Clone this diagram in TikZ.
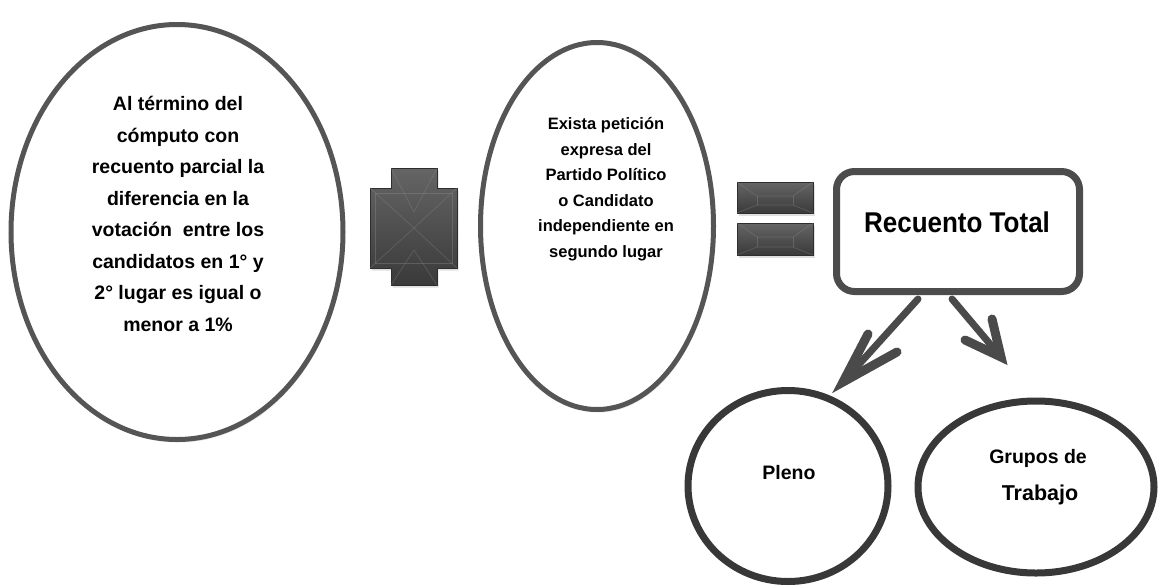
\documentclass[tikz,border=0pt]{standalone}
\usepackage{fontspec}
\setmainfont{Liberation Sans}
\usetikzlibrary{shapes.geometric,shadows,calc}
\definecolor{ring}{HTML}{555555}
\definecolor{ringdark}{HTML}{383838}
\definecolor{symtop}{HTML}{656565}
\definecolor{symbot}{HTML}{3A3A3A}
\definecolor{symedge}{HTML}{2E2E2E}
\definecolor{arrowgray}{HTML}{4A4A4A}
\tikzset{
  ringshadow/.style={drop shadow={shadow xshift=1.5pt, shadow yshift=-3pt, opacity=0.18}},
  bigring/.style={ellipse, draw=ring, line width=5pt, fill=white, inner sep=0pt, ringshadow},
  smallring/.style={ellipse, draw=ringdark, line width=7pt, fill=white, inner sep=0pt, ringshadow},
  totalbox/.style={rectangle, rounded corners=18pt, draw=ringdark!90!white, line width=7pt, fill=white, inner sep=0pt, ringshadow},
  lbl/.style={align=center, text=black, inner sep=0pt},
  symbol/.style={top color=symtop, bottom color=symbot, draw=symedge, line width=0.8pt},
  facet/.style={draw=symtop!70!white, line width=0.6pt, opacity=0.35},
  shaft/.style={draw=arrowgray, line width=7pt, line cap=round},
  barb/.style={draw=arrowgray, line width=9pt, line cap=round}
}
\begin{document}
\begin{tikzpicture}[x=1pt,y=-1pt]
\useasboundingbox (0,0) rectangle (1159,587);

% ellipses
\node[bigring, minimum width=332pt, minimum height=415pt] (c1) at (177,232) {};
\node[bigring, minimum width=233pt, minimum height=367pt] (c2) at (597,226) {};
\node[smallring, minimum width=200pt, minimum height=191pt] (pl) at (788,486) {};
\node[smallring, minimum width=236pt, minimum height=172pt] (gt) at (1036,487) {};

% box
\node[totalbox, minimum width=243pt, minimum height=120pt] (rt) at (958,231.5) {};

% texts
\node[lbl, font=\fontsize{19.5}{31.5}\selectfont\bfseries] (t1) at (178,214)
  {Al término del\\cómputo con\\recuento parcial la\\diferencia en la\\votación~ entre los\\candidatos en 1° y\\2° lugar es igual o\\menor a 1\%};
\node[lbl, font=\fontsize{16.5}{25.5}\selectfont\bfseries] (t2) at (606,189)
  {Exista petición\\expresa del\\Partido Político\\o Candidato\\independiente en\\segundo lugar};
\node[lbl, font=\fontsize{26}{30}\selectfont\bfseries] (t3) at (957,222) {\scalebox{1}[1.1]{Recuento Total}};
\node[lbl, font=\fontsize{19.5}{24}\selectfont\bfseries] (t4) at (789,473) {Pleno};
\node[lbl, font=\fontsize{19.5}{24}\selectfont\bfseries] (t5) at (1038,458) {Grupos de};
\node[lbl, font=\fontsize{21.5}{26}\selectfont\bfseries] (t6) at (1040,495) {Trabajo};

% plus sign
\path[symbol, drop shadow={shadow xshift=1.5pt, shadow yshift=-2.5pt, opacity=0.25}]
  (391,168) -- (437,168) -- (437,188) -- (457,188) -- (457,268) -- (437,268)
  -- (437,285) -- (391,285) -- (391,268) -- (370,268) -- (370,188) -- (391,188) -- cycle;
\draw[facet] (391,168) -- (414,212) -- (437,168);
\draw[facet] (370,188) -- (414,228) -- (457,188);
\draw[facet] (370,268) -- (414,228) -- (457,268);
\draw[facet] (391,285) -- (414,250) -- (437,285);
\draw[facet] (375,193) rectangle (452,263);

% equals sign
\path[symbol, drop shadow={shadow xshift=1.5pt, shadow yshift=-2.5pt, opacity=0.25}] (737,182) rectangle (813,213);
\path[symbol, drop shadow={shadow xshift=1.5pt, shadow yshift=-2.5pt, opacity=0.25}] (737,223) rectangle (813,255);
\draw[facet] (737,182) -- (757,196) -- (793,196) -- (813,182);
\draw[facet] (737,213) -- (757,205) -- (793,205) -- (813,213);
\draw[facet] (757,196) -- (757,205) (793,196) -- (793,205);
\draw[facet] (737,223) -- (757,237) -- (793,237) -- (813,223);
\draw[facet] (737,255) -- (757,247) -- (793,247) -- (813,255);
\draw[facet] (757,237) -- (757,247) (793,237) -- (793,247);

% arrows
\coordinate (a1) at (843,382);
\coordinate (a1l) at (868,334);
\coordinate (a1r) at (897,352);
\coordinate (a2) at (1001,357);
\coordinate (a2l) at (992,319);
\coordinate (a2r) at (965,340);
\draw[shaft] ($(rt.south)+(-40,4)$) -- (a1);
\draw[barb] (a1l) -- ($(a1)!0.15!(a1l)$) -- (a1) -- ($(a1)!0.15!(a1r)$) -- (a1r);
\draw[shaft] ($(rt.south)+(-6,4)$) -- (a2);
\draw[barb] (a2l) -- (a2) -- (a2r);
\end{tikzpicture}
\end{document}
